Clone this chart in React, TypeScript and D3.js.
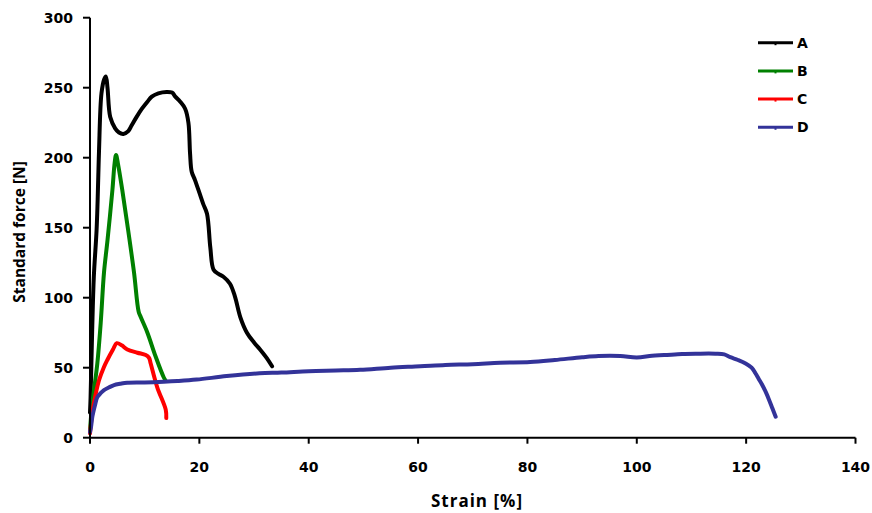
import React from "react";
import * as d3 from "d3";

const xTicks = [0, 20, 40, 60, 80, 100, 120, 140];
const yTicks = [0, 50, 100, 150, 200, 250, 300];

const aX = [0, 0.1, 0.4, 0.7, 1.2, 1.4, 1.65, 2.1, 2.6, 2.9, 3.2, 3.7, 4.6, 5.3, 6.1, 7.0, 7.6, 8.5, 9.5, 10.5, 11.3, 12.5, 14.0, 15.0, 15.6, 16.5, 17.4, 18.0, 18.3, 18.6, 19.2, 20.0, 20.7, 21.4, 22.0, 22.6, 23.5, 24.4, 25.6, 26.5, 27.5, 28.7, 30.0, 31.1, 32.3, 33.3];
const aY = [18, 28, 77, 115, 148, 170, 205, 246, 256, 258, 250, 229, 221, 218, 217, 219, 223, 229, 235, 240, 243.6, 246, 247, 246.5, 243.6, 240, 235, 225, 203, 190, 184, 175, 167, 160, 136, 120, 117, 115, 110, 101, 86, 75, 68, 63, 57, 51];

const bX = [0, 0.3, 0.73, 1.34, 1.96, 2.56, 3.2, 4.1, 4.5, 4.76, 5.1, 5.9, 6.8, 8.05, 8.9, 9.3, 10.5, 12.0, 13.5, 13.8];
const bY = [5, 20, 34, 53, 82, 118, 141, 177, 196, 202, 196, 177, 153, 118, 90, 86, 75, 58, 43, 41];

const cX = [0, 0.3, 0.73, 1.65, 2.5, 3.17, 4.2, 4.9, 5.8, 6.83, 8.66, 10.2, 10.8, 11.1, 12.3, 13.85, 13.95];
const cY = [3, 14, 25, 41, 50, 55.5, 63, 67.5, 66, 63, 60.7, 59, 57, 53, 36, 20, 14];

const dX = [0, 0.2, 0.43, 0.9, 1.34, 2.0, 2.56, 3.5, 4.4, 5.5, 6.8, 10, 13.5, 16, 19.5, 25, 31, 35, 40, 45, 49.4, 55, 60.4, 65, 70, 75, 80.5, 85, 90, 93, 97, 100, 102.8, 105, 108.3, 111, 114.4, 116, 117.1, 118.5, 119.9, 121, 121.7, 122.3, 122.9, 123.6, 124.2, 124.8, 125.4];
const dY = [4, 8, 15, 23, 29, 32, 34, 36, 37.6, 38.5, 39.3, 39.5, 40, 40.5, 41.5, 44, 46, 46.5, 47.5, 48, 48.5, 50, 51, 52, 52.5, 53.5, 54, 55.5, 57.5, 58.4, 58.4, 57.3, 58.6, 59, 59.8, 60, 60, 59.5, 57.5, 55.5, 53, 50, 46, 42, 38, 32.5, 27, 21, 15];

const seriesNames = ["A", "B", "C", "D"];
const seriesColors = ["#000000", "#008000", "#FF0000", "#333399"];
const seriesData = [
  [aX, aY],
  [bX, bY],
  [cX, cY],
  [dX, dY],
];

export default function App() {
  const W = 872;
  const H = 513;
  const x = d3.scaleLinear().domain([0, 140]).range([90, 855.5]);
  const y = d3.scaleLinear().domain([0, 300]).range([437.7, 17.7]);
  const lineGen = d3
    .line<[number, number]>()
    .x((d) => x(d[0]))
    .y((d) => y(d[1]))
    .curve(d3.curveCatmullRom.alpha(0.5));

  const tickFont = "'DejaVu Sans', Verdana, sans-serif";
  const titleFont = "'Open Sans', 'DejaVu Sans', sans-serif";

  return (
    <svg
      width={W}
      height={H}
      style={{ position: "absolute", left: 0, top: 0, background: "#fff" }}
    >
      <rect x={0} y={0} width={W} height={H} fill="#fff" />
      {seriesData.map(([xs, ys], i) => {
        const pts: [number, number][] = xs.map((v, j) => [v, ys[j]]);
        return (
          <path
            key={i}
            d={lineGen(pts) || ""}
            fill="none"
            stroke={seriesColors[i]}
            strokeWidth={4}
            strokeLinejoin="round"
            strokeLinecap="round"
          />
        );
      })}
      <line x1={x(0)} x2={x(0)} y1={y(0) + 1} y2={y(300)} stroke="#000" strokeWidth={2} />
      <line x1={x(0)} x2={x(140)} y1={y(0)} y2={y(0)} stroke="#000" strokeWidth={2} />
      {yTicks.map((t) => (
        <g key={"y" + t}>
          <line x1={x(0) - 7} x2={x(0)} y1={y(t)} y2={y(t)} stroke="#000" strokeWidth={2} />
          <text
            x={73}
            y={y(t)}
            dy="0.36em"
            textAnchor="end"
            fontFamily={tickFont}
            fontWeight="bold"
            fontSize={14}
            fill="#000"
          >
            {t}
          </text>
        </g>
      ))}
      {xTicks.map((t) => (
        <g key={"x" + t}>
          <line x1={x(t)} x2={x(t)} y1={y(0)} y2={y(0) + 6} stroke="#000" strokeWidth={2} />
          <text
            x={x(t)}
            y={471.5}
            textAnchor="middle"
            fontFamily={tickFont}
            fontWeight="bold"
            fontSize={14}
            fill="#000"
          >
            {t}
          </text>
        </g>
      ))}
      <text
        x={477}
        y={506.5}
        textAnchor="middle"
        fontFamily={titleFont}
        fontWeight="bold"
        fontSize={17}
        letterSpacing={1}
        fill="#000"
      >
        Strain [%]
      </text>
      <text
        transform={`translate(25,232) rotate(-90)`}
        textAnchor="middle"
        fontFamily={titleFont}
        fontWeight="bold"
        fontSize={15.5}
        fill="#000"
      >
        Standard force [N]
      </text>
      {seriesNames.map((n, i) => {
        const ly = 42.7 + i * 28.2;
        return (
          <g key={n}>
            <line x1={758} x2={793} y1={ly} y2={ly} stroke={seriesColors[i]} strokeWidth={3} />
            <rect x={774.5} y={ly} width={2} height={2.5} fill={seriesColors[i]} />
            <text
              x={797}
              y={ly}
              dy="0.36em"
              fontFamily={tickFont}
              fontWeight="bold"
              fontSize={14}
              fill="#000"
            >
              {n}
            </text>
          </g>
        );
      })}
    </svg>
  );
}
